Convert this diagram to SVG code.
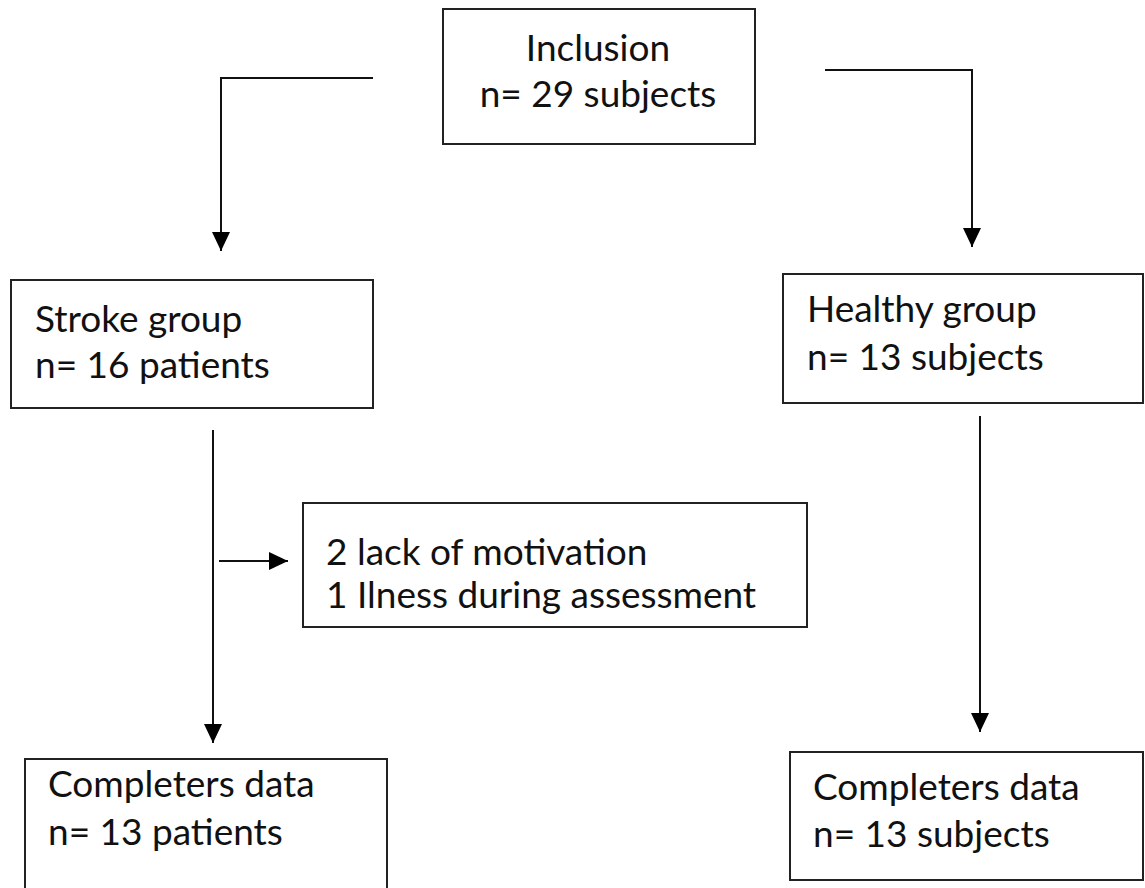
<svg xmlns="http://www.w3.org/2000/svg" width="1145" height="888" viewBox="0 0 1145 888">
<defs>
<marker id="arr" markerUnits="userSpaceOnUse" markerWidth="20" markerHeight="20" refX="19" refY="9" orient="auto">
<path d="M0,0 L19,9 L0,18 z" fill="#000"/>
</marker>
<style>
.box{fill:#fff;stroke:#222;stroke-width:2}
.lbl{font-family:Lato,"Open Sans","Liberation Sans",sans-serif;font-size:37px;fill:#111}
.c{text-anchor:middle}
.conn{fill:none;stroke:#111;stroke-width:2}
</style>
</defs>
<rect width="1145" height="888" fill="#fff"/>
<g id="connectors">
<path class="conn" d="M373,78 H221 V251" marker-end="url(#arr)"/>
<path class="conn" d="M825,70 H972 V247" marker-end="url(#arr)"/>
<path class="conn" d="M213,430 V743" marker-end="url(#arr)"/>
<path class="conn" d="M219,561 H288" marker-end="url(#arr)"/>
<path class="conn" d="M980,416 V732" marker-end="url(#arr)"/>
</g>
<g id="inclusion">
<rect class="box" x="443" y="9" width="312" height="135"/>
<text class="lbl c" x="598" y="61">Inclusion</text>
<text class="lbl c" x="598" y="107">n= 29 subjects</text>
</g>
<g id="stroke">
<rect class="box" x="11" y="280" width="362" height="128"/>
<text class="lbl" x="35" y="332">Stroke group</text>
<text class="lbl" x="35" y="378">n= 16 patients</text>
</g>
<g id="healthy">
<rect class="box" x="783" y="274" width="360" height="129"/>
<text class="lbl" x="807" y="322">Healthy group</text>
<text class="lbl" x="807" y="370">n= 13 subjects</text>
</g>
<g id="dropout">
<rect class="box" x="303" y="503" width="504" height="124"/>
<text class="lbl" x="326" y="565">2 lack of motivation</text>
<text class="lbl" x="326" y="608">1 Ilness during assessment</text>
</g>
<g id="completers-stroke">
<rect class="box" x="25" y="759" width="362" height="150"/>
<text class="lbl" x="48" y="797">Completers data</text>
<text class="lbl" x="48" y="845">n= 13 patients</text>
</g>
<g id="completers-healthy">
<rect class="box" x="790" y="752" width="353" height="128"/>
<text class="lbl" x="813" y="800">Completers data</text>
<text class="lbl" x="813" y="847">n= 13 subjects</text>
</g>
</svg>
